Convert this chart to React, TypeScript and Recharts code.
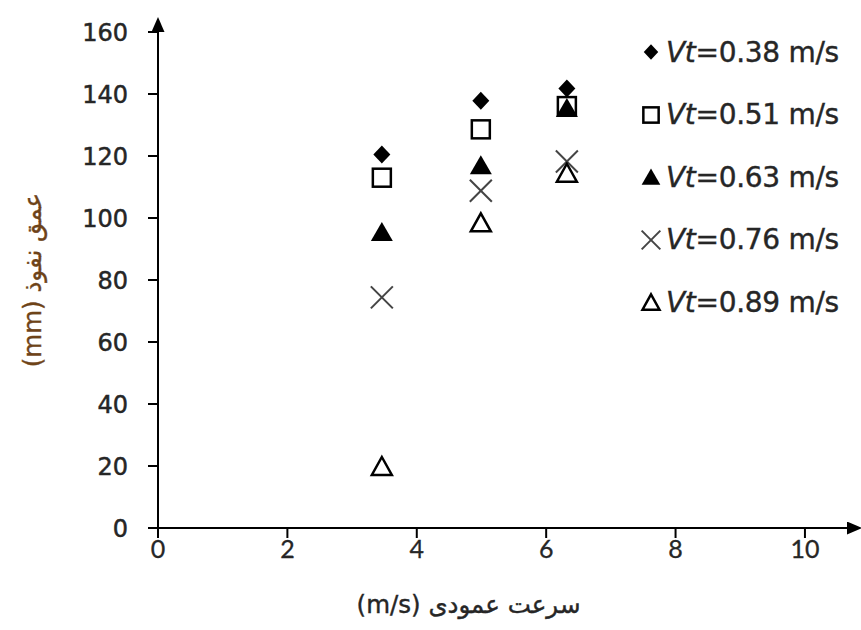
import React from "react";
import { ScatterChart, Scatter, XAxis, YAxis, Legend, Label } from "recharts";

// Vertical velocity (m/s) at which each penetration depth was measured
const verticalSpeed = [3.46, 4.99, 6.32];

// Penetration depth (mm) for each transverse velocity Vt
const depthVt038 = [120.5, 137.8, 141.8];
const depthVt051 = [113.0, 128.6, 136.1];
const depthVt063 = [95.5, 117.0, 135.5];
const depthVt076 = [74.4, 108.8, 118.2];
const depthVt089 = [20.0, 98.6, 114.6];

const vtLabels = ["0.38", "0.51", "0.63", "0.76", "0.89"];
const xTicks = [0, 2, 4, 6, 8, 10];
const yTicks = [0, 20, 40, 60, 80, 100, 120, 140, 160];

type MarkerKind = "diamond" | "square" | "triangle" | "cross" | "openTriangle";

const seriesList: { label: string; values: number[]; kind: MarkerKind }[] = [
  { label: vtLabels[0], values: depthVt038, kind: "diamond" },
  { label: vtLabels[1], values: depthVt051, kind: "square" },
  { label: vtLabels[2], values: depthVt063, kind: "triangle" },
  { label: vtLabels[3], values: depthVt076, kind: "cross" },
  { label: vtLabels[4], values: depthVt089, kind: "openTriangle" },
];

const toPoints = (values: number[]) =>
  values.map((depth, i) => ({ speed: verticalSpeed[i], depth }));

const TEXT = "#262626";

function drawMarker(kind: MarkerKind, cx: number, cy: number, s: number) {
  switch (kind) {
    case "diamond":
      return (
        <path
          d={`M${cx},${cy - 9 * s} L${cx + 8.5 * s},${cy} L${cx},${cy + 9 * s} L${cx - 8.5 * s},${cy} Z`}
          fill="#000"
        />
      );
    case "square":
      return (
        <rect
          x={cx - 9 * s}
          y={cy - 9 * s}
          width={18 * s}
          height={18 * s}
          fill="none"
          stroke="#000"
          strokeWidth={2.5}
        />
      );
    case "triangle":
      return (
        <path
          d={`M${cx},${cy - 10 * s} L${cx + 11 * s},${cy + 9 * s} L${cx - 11 * s},${cy + 9 * s} Z`}
          fill="#000"
        />
      );
    case "cross":
      return (
        <g stroke="#444" strokeWidth={2}>
          <line x1={cx - 11 * s} y1={cy - 11 * s} x2={cx + 11 * s} y2={cy + 11 * s} />
          <line x1={cx - 11 * s} y1={cy + 11 * s} x2={cx + 11 * s} y2={cy - 11 * s} />
        </g>
      );
    case "openTriangle":
      return (
        <path
          d={`M${cx},${cy - 9 * s} L${cx + 10 * s},${cy + 9 * s} L${cx - 10 * s},${cy + 9 * s} Z`}
          fill="none"
          stroke="#000"
          strokeWidth={2.5}
          strokeLinejoin="miter"
        />
      );
  }
}

const makeShape = (kind: MarkerKind) => (props: any) => {
  const { cx, cy } = props;
  if (cx == null || cy == null) return <g />;
  return drawMarker(kind, cx, cy, 1);
};

const LegendContent = () => (
  <div
    style={{
      fontFamily: "'DejaVu Sans', Verdana, sans-serif",
      fontSize: 28,
      color: TEXT,
      WebkitTextStroke: "0.4px #262626",
    }}
  >
    {seriesList.map((s) => (
      <div
        key={s.label}
        style={{ height: 62.5, display: "flex", alignItems: "center", whiteSpace: "nowrap" }}
      >
        <svg width={26} height={26} style={{ marginRight: 2, flex: "none" }}>
          {drawMarker(s.kind, 13, 13, 0.85)}
        </svg>
        <span style={{ letterSpacing: -0.3 }}>
          <i>Vt</i>=
          {s.label} m/s
        </span>
      </div>
    ))}
  </div>
);

const YTitle = (props: any) => {
  const { viewBox } = props;
  const cx = 32;
  const cy = viewBox.y + viewBox.height / 2;
  return (
    <text
      x={cx}
      y={cy}
      transform={`rotate(-90, ${cx}, ${cy})`}
      textAnchor="middle"
      dominantBaseline="central"
      fill="#6e4318"
      stroke="#6e4318"
      strokeWidth={0.4}
      fontSize={24.5}
      fontFamily="'DejaVu Sans', sans-serif"
    >
      (mm) عمق نفوذ
    </text>
  );
};

const XTitle = (props: any) => {
  const { viewBox } = props;
  const cx = viewBox.x + viewBox.width / 2 - 34;
  return (
    <text
      x={cx}
      y={604}
      textAnchor="middle"
      dominantBaseline="central"
      fill={TEXT}
      stroke={TEXT}
      strokeWidth={0.4}
      fontSize={24.5}
      fontFamily="'DejaVu Sans', sans-serif"
    >
      (m/s) سرعت عمودی
    </text>
  );
};

export default function App() {
  return (
    <div style={{ position: "absolute", left: 0, top: 0, width: 861, height: 630, background: "#fff" }}>
      <svg width={0} height={0} style={{ position: "absolute" }}>
        <defs>
          <marker
            id="axisArrow"
            viewBox="0 0 10 10"
            refX={0}
            refY={5}
            markerWidth={15}
            markerHeight={13}
            markerUnits="userSpaceOnUse"
            preserveAspectRatio="none"
            orient="auto-start-reverse"
          >
            <path d="M0,0 L10,5 L0,10 Z" fill="#000" />
          </marker>
        </defs>
      </svg>
      <ScatterChart width={861} height={630} margin={{ top: 32, right: 14, bottom: 0, left: 0 }}>
        <XAxis
          type="number"
          dataKey="speed"
          domain={[0, 10.65]}
          ticks={xTicks}
          allowDataOverflow
          height={102}
          tickSize={10}
          tickMargin={2}
          axisLine={{ stroke: "#000", strokeWidth: 2, markerEnd: "url(#axisArrow)" } as any}
          tickLine={{ stroke: "#000", strokeWidth: 2 }}
          tick={{
            fill: TEXT,
            stroke: TEXT,
            strokeWidth: 0.3,
            fontSize: 25,
            fontFamily: "Lato, 'Open Sans', sans-serif",
          }}
        >
          <Label content={XTitle} />
        </XAxis>
        <YAxis
          type="number"
          dataKey="depth"
          domain={[0, 160]}
          ticks={yTicks}
          width={158}
          tickSize={10}
          tickMargin={20}
          axisLine={{ stroke: "#000", strokeWidth: 2, markerStart: "url(#axisArrow)" } as any}
          tickLine={{ stroke: "#000", strokeWidth: 2 }}
          tick={{
            fill: TEXT,
            stroke: TEXT,
            strokeWidth: 0.5,
            fontSize: 24,
            fontFamily: "'DejaVu Sans', Verdana, sans-serif",
          }}
        >
          <Label content={YTitle} />
        </YAxis>
        <Legend
          layout="vertical"
          align="center"
          verticalAlign="middle"
          content={LegendContent}
          wrapperStyle={{ position: "absolute", left: 638, top: 21, width: 223 }}
        />
        {seriesList.map((s) => (
          <Scatter
            key={s.label}
            name={`Vt=${s.label} m/s`}
            data={toPoints(s.values)}
            shape={makeShape(s.kind)}
            isAnimationActive={false}
          />
        ))}
      </ScatterChart>
    </div>
  );
}
